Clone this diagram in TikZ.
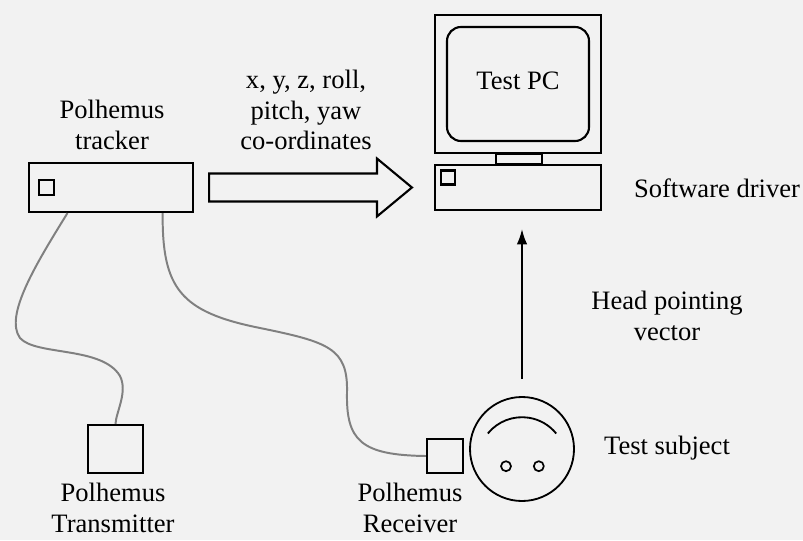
\documentclass[tikz,border=0pt]{standalone}
\usepackage{fontspec}
\setmainfont{Liberation Serif}
\usetikzlibrary{arrows.meta}
\usetikzlibrary{calc,positioning}
\tikzset{>=latex}
\colorlet{papercol}{black!5}
\colorlet{cablecol}{black!50}
\tikzstyle{unit}=[draw,line width=1.5pt,inner sep=0pt]
\tikzstyle{cable}=[draw=cablecol,line width=1.4pt]
\tikzstyle{lbl}=[align=center,inner sep=0pt,font=\fontsize{18.9}{21.5}\selectfont]

\begin{document}
\begin{tikzpicture}
  \def\W{20.075} % page width
  \def\H{13.5}   % page height
  \fill[papercol] (0,0) rectangle (\W,\H);
  \useasboundingbox (0,0) rectangle (\W,\H);

  % tracker unit with its switch
  \node[unit,minimum width=4.1cm,minimum height=1.225cm] (tracker) at (2.775,8.8125) {};
  \node[unit,minimum size=0.375cm] (trkswitch) at ($(tracker.west)+(0.46,0)$) {};
  \node[lbl] (trklabel) at (2.8,10.375) {Polhemus\\tracker};

  % the PC: monitor, screen, neck, base
  \node[unit,minimum width=4.15cm,minimum height=3.45cm] (monitor) at (12.95,11.4) {};
  \node[unit,rounded corners=0.35cm,minimum width=3.55cm,minimum height=2.85cm] (screen) at (monitor.center) {};
  \node[unit,minimum width=4.15cm,minimum height=1.125cm] (base) at (12.95,8.8125) {};
  \draw[line width=1.5pt] ($(monitor.south)+(-0.55,0)$) rectangle ($(base.north)+(0.6,0)$);
  \node[unit,minimum size=0.35cm] (pcswitch) at ($(base.north west)+(0.35,-0.3375)$) {};
  \node[lbl] (pclabel) at ($(screen.center)+(0,0.075)$) {Test PC};
  \node[lbl] (drvlabel) at (17.925,8.8) {Software driver};

  % big arrow tracker -> PC
  \coordinate (tail) at ($(tracker.east)+(0.375,0)$);
  \coordinate (tip) at ($(base.west)+(-0.55,0)$);
  \draw[line width=1.5pt,line join=miter]
    ($(tail)+(0,0.35)$) -- ($(tip)+(-0.875,0.35)$) -- ++(0,0.375) -- (tip)
    -- ++(-0.875,-0.725) -- ++(0,0.375) -- ($(tail)+(0,-0.35)$) -- cycle;
  \node[lbl] (datalabel) at (7.65,10.75) {x, y, z, roll,\\pitch, yaw\\co-ordinates};

  % test subject seen from above
  \node[unit,circle,line width=1.3pt,minimum size=2.6cm] (head) at (13.05,2.275) {};
  \draw[line width=1.3pt] ($(head.center)+(0,-0.305)+(141:1.1)$) arc[start angle=141,end angle=39,radius=1.1cm];
  \node[unit,circle,line width=1.2pt,minimum size=0.25cm] (lefteye) at ($(head.center)+(-0.4,-0.43)$) {};
  \node[unit,circle,line width=1.2pt,minimum size=0.25cm] (righteye) at ($(head.center)+(0.42,-0.43)$) {};
  \node[lbl] (subjlabel) at (16.675,2.3) {Test subject};

  \draw[line width=1.3pt,-{Latex[length=3.8mm,width=2.6mm]},shorten <=0.425cm,shorten >=0.45cm]
    (head.north) -- (head.north |- base.south);
  \node[lbl] (veclabel) at (16.675,5.6) {Head pointing\\vector};

  % sensors
  \node[unit,minimum width=0.9cm,minimum height=0.85cm] (receiver) at (11.125,2.1) {};
  \node[lbl] (rcvlabel) at (10.25,0.8) {Polhemus\\Receiver};
  \node[unit,minimum width=1.375cm,minimum height=1.2cm] (transmitter) at (2.8875,2.275) {};
  \node[lbl] (trmlabel) at (2.825,0.8) {Polhemus\\Transmitter};

  % cables
  \draw[cable] ($(tracker.south west)!0.238!(tracker.south east)$)
    .. controls (0.9,6.9) and (0.1,5.6) .. (0.5,5.05)
    .. controls (0.9,4.6) and (2.55,4.85) .. (3.0,4.1)
    .. controls (3.2,3.7) and (2.9,3.2) .. (transmitter.north);
  \draw[cable] ($(tracker.south west)!0.811!(tracker.south east)$)
    .. controls (4.05,6.3) and (4.5,5.7) .. (6.5,5.3)
    .. controls (8.2,4.95) and (8.7,4.8) .. (8.675,3.7)
    .. controls (8.65,2.5) and (9.0,2.12) .. (receiver.west);
\end{tikzpicture}
\end{document}
